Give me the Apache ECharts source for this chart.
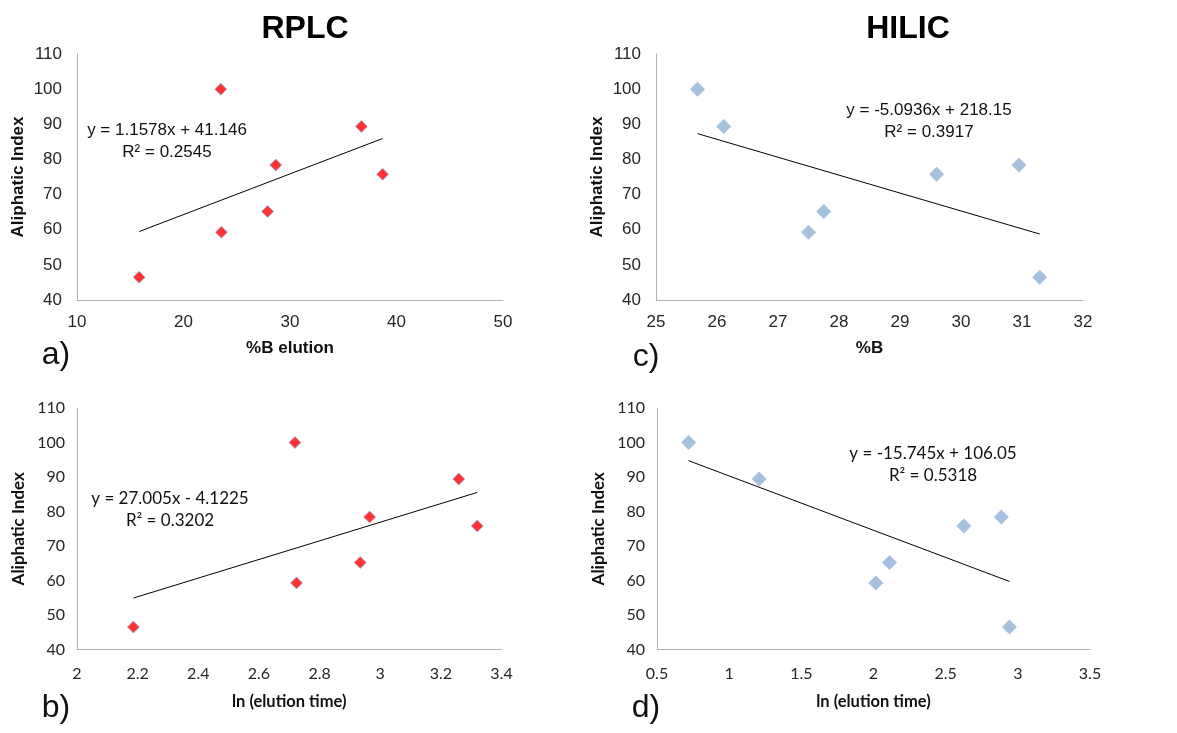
<!DOCTYPE html>
<html>
<head>
<meta charset="utf-8">
<script src="https://cdn.jsdelivr.net/npm/echarts@6/dist/echarts.min.js"></script>
<style>html,body{margin:0;padding:0;background:#fff;}#c{width:1177px;height:733px;}</style>
</head>
<body>
<div id="c"></div>
<script>
// Shared aliphatic index values (y)
const aliphaticIndex = [46.5, 100, 59.3, 65.2, 78.4, 89.4, 75.8];
// a) RPLC %B elution
const rplcPercentB = [15.84, 23.5, 23.56, 27.9, 28.66, 36.7, 38.7];
// b) RPLC ln(elution time)
const rplcLnTime = [2.186, 2.719, 2.724, 2.934, 2.965, 3.259, 3.32];
// c) HILIC %B  (same order as aliphaticIndex)
const hilicPercentB = [31.29, 25.68, 27.5, 27.75, 30.95, 26.11, 29.6];
// d) HILIC ln(elution time)
const hilicLnTime = [2.942, 0.719, 2.016, 2.111, 2.886, 1.208, 2.626];

// Trend line coefficients (as printed on the chart)
const slopes = [1.1578, 27.005, -5.0936, -15.745];
const intercepts = [41.146, -4.1225, 218.15, 106.05];
const equations = ['y = 1.1578x + 41.146', 'y = 27.005x - 4.1225', 'y = -5.0936x + 218.15', 'y = -15.745x + 106.05'];
const r2Labels = ['R² = 0.2545', 'R² = 0.3202', 'R² = 0.3917', 'R² = 0.5318'];

const xNames = ['%B elution', 'ln (elution time)', '%B', 'ln (elution time)'];
const yName = 'Aliphatic Index';
const panelLabels = ['a)', 'b)', 'c)', 'd)'];
const columnTitles = ['RPLC', 'HILIC'];

const xMins = [10, 2, 25, 0.5];
const xMaxs = [50, 3.4, 32, 3.5];
const xIntervals = [10, 0.2, 1, 0.5];

const xData = [rplcPercentB, rplcLnTime, hilicPercentB, hilicLnTime];

const grids = [
  {left: 77, top: 54, width: 426, height: 246},
  {left: 77, top: 408, width: 424.5, height: 241.5},
  {left: 656, top: 54, width: 427, height: 246},
  {left: 657, top: 408, width: 433, height: 241.5}
];
const arial = 'Liberation Sans, Arial, sans-serif';
const calibri = 'Lato, "Open Sans", sans-serif';
const fonts = [arial, calibri, arial, calibri];
const isRed = [true, true, false, false];

const xAxes = [], yAxes = [], series = [], graphics = [];
for (let i = 0; i < 4; i++) {
  const f = fonts[i];
  const top = i % 2 === 0;
  xAxes.push({
    gridIndex: i, type: 'value', min: xMins[i], max: xMaxs[i], interval: xIntervals[i],
    splitLine: {show: false}, axisTick: {show: false},
    axisLine: {show: true, onZero: false, lineStyle: {color: '#b3b3b3', width: 1}},
    axisLabel: {color: '#262626', fontFamily: f, fontSize: top ? 17 : 16, margin: top ? 14 : 16,
      formatter: v => String(Number(v.toFixed(2)))},
    name: xNames[i], nameLocation: 'middle', nameGap: top ? 40 : 44,
    nameTextStyle: {fontFamily: f, fontWeight: 'bold', fontSize: top ? 17 : 16.5, color: '#111'}
  });
  yAxes.push({
    gridIndex: i, type: 'value', min: 40, max: 110, interval: 10,
    splitLine: {show: false}, axisTick: {show: false},
    axisLine: {show: true, onZero: false, lineStyle: {color: '#b3b3b3', width: 1}},
    axisLabel: {color: '#262626', fontFamily: f, fontSize: top ? 17 : 16, margin: top ? 15 : 12},
    name: yName, nameLocation: 'middle', nameGap: 50, nameRotate: 90,
    nameTextStyle: {fontFamily: f, fontWeight: 'bold', fontSize: 17, color: '#111'}
  });
  const pts = xData[i].map((x, k) => [x, aliphaticIndex[k]]);
  series.push({
    type: 'scatter', xAxisIndex: i, yAxisIndex: i, data: pts,
    symbol: 'diamond', symbolSize: isRed[i] ? 12 : 15,
    itemStyle: isRed[i] ? {color: '#ff0000', borderColor: '#9bb5d6', borderWidth: 1} : {color: '#8fb2d6', borderWidth: 0},
    z: 3
  });
  const lo = Math.min(...xData[i]), hi = Math.max(...xData[i]);
  series.push({
    type: 'line', xAxisIndex: i, yAxisIndex: i, symbol: 'none', silent: true,
    data: [[lo, slopes[i] * lo + intercepts[i]], [hi, slopes[i] * hi + intercepts[i]]],
    lineStyle: {color: '#000', width: 1}, z: 2
  });
}

// Equation text positions (center x, first line y)
const eqPos = [[167, 130], [170, 499], [929, 110], [933, 454]];
const eqSize = [17, 17, 17, 17];
for (let i = 0; i < 4; i++) {
  graphics.push({type: 'text', x: eqPos[i][0], y: eqPos[i][1],
    style: {text: equations[i], fontFamily: fonts[i], fontSize: eqSize[i], fill: '#111', align: 'center', verticalAlign: 'middle'}});
  graphics.push({type: 'text', x: eqPos[i][0], y: eqPos[i][1] + (i % 2 === 0 ? 22 : 21.5),
    style: {text: r2Labels[i], fontFamily: fonts[i], fontSize: eqSize[i], fill: '#111', align: 'center', verticalAlign: 'middle'}});
}
const lblPos = [[56, 355], [56, 708], [646, 357], [646, 708]];
for (let i = 0; i < 4; i++) {
  graphics.push({type: 'text', x: lblPos[i][0], y: lblPos[i][1],
    style: {text: panelLabels[i], fontFamily: arial, fontSize: 32, fill: '#111', align: 'center', verticalAlign: 'middle'}});
}
const titlePos = [[305, 29], [908, 29]];
for (let i = 0; i < 2; i++) {
  graphics.push({type: 'text', x: titlePos[i][0], y: titlePos[i][1],
    style: {text: columnTitles[i], fontFamily: arial, fontWeight: 'bold', fontSize: 32, fill: '#000', align: 'center', verticalAlign: 'middle'}});
}

const chart = echarts.init(document.getElementById('c'), null, {renderer: 'canvas'});
chart.setOption({
  animation: false,
  backgroundColor: '#fff',
  grid: grids,
  xAxis: xAxes,
  yAxis: yAxes,
  series: series,
  graphic: graphics
});
</script>
</body>
</html>
